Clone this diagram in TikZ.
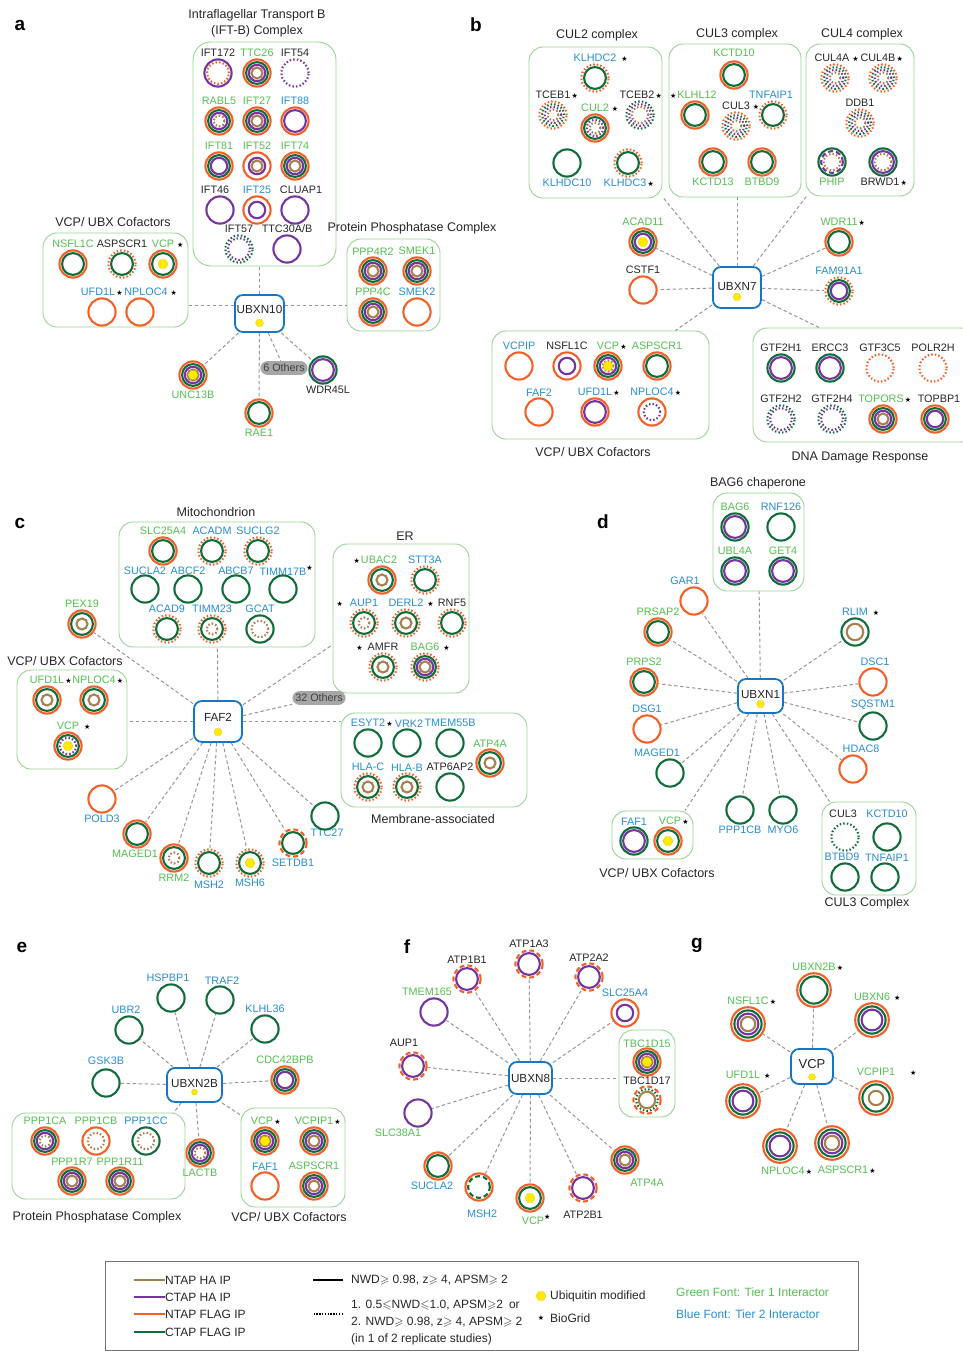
\documentclass[tikz,border=0pt]{standalone}
\usepackage{fontspec}
\usepackage{amssymb}
\setmainfont{Liberation Sans}
\newfontfamily\symf{DejaVu Sans}
\usetikzlibrary{shapes.geometric,positioning}

\definecolor{cO}{RGB}{242,96,40}
\definecolor{cG}{RGB}{16,108,56}
\definecolor{cP}{RGB}{118,52,160}
\definecolor{cB}{RGB}{168,128,80}
\definecolor{tGr}{RGB}{84,190,80}
\definecolor{tBl}{RGB}{40,140,210}
\definecolor{boxG}{RGB}{150,212,145}
\definecolor{hubB}{RGB}{22,118,198}
\definecolor{ubY}{RGB}{255,234,0}
\definecolor{lnkC}{RGB}{150,150,150}
\definecolor{txtK}{RGB}{38,38,38}

\newcommand{\labf}{\fontsize{10.8}{12}\selectfont}
\newcommand{\ttlf}{\fontsize{12.5}{16}\selectfont}
\newcommand{\bgs}{{\symf\fontsize{7}{7}\selectfont\textcolor{black}{★}}}
\newcommand{\starR}[1][1.2pt]{\rlap{\hspace{#1}\bgs}}
\newcommand{\starL}[1][1.2pt]{\llap{\bgs\hspace{#1}}}
\newcommand{\starU}{\rlap{\raisebox{5pt}{\bgs}}}
\newcommand{\rmax}{13.6}
\newcommand{\rstep}{2.7}

\tikzset{
  ring/.style={line width=2.1pt},
  dotline/.style={dash pattern=on 1.5pt off 2.1pt},
  dashline/.style={dash pattern=on 5pt off 3pt},
  ro/.style={ring,draw=cO}, rod/.style={ro,dotline}, rox/.style={ro,dashline},
  rg/.style={ring,draw=cG}, rgd/.style={rg,dotline}, rgx/.style={rg,dashline},
  rp/.style={ring,draw=cP}, rpd/.style={rp,dotline}, rpx/.style={rp,dashline},
  rb/.style={ring,draw=cB}, rbd/.style={rb,dotline}, rbx/.style={rb,dashline},
  rsk/.style={draw=none},
  prot/.style={circle,inner sep=0pt,minimum size={(2*\rmax+2)*1pt}},
  lab/.style={font=\labf,inner sep=1pt},
  tA/.style={text=tGr}, tB/.style={text=tBl}, tK/.style={text=txtK},
  ubdot/.style={regular polygon,regular polygon sides=6,minimum size=10pt,inner sep=0pt,fill=ubY,draw=ubY!85!black,line width=0.3pt},
  hubdot/.style={minimum size=8pt},
  hub/.style={draw=hubB,line width=1.8pt,rounded corners=8pt,fill=white,inner sep=0pt},
  hubt/.style={font=\fontsize{11.7}{12}\selectfont,text=txtK,inner sep=0pt},
  grp/.style={draw=boxG,line width=0.9pt,rounded corners=14pt,inner sep=0pt},
  ttl/.style={font=\ttlf,text=txtK,align=center,inner sep=1pt},
  pan/.style={font=\fontsize{19}{20}\selectfont\bfseries,text=black},
  oth/.style={fill=black!35,rounded corners=7.5pt,inner sep=3pt,font=\labf,text=black!75},
  lnk/.style={draw=lnkC,line width=1pt,dash pattern=on 3.5pt off 2.5pt},
  leg/.style={font=\fontsize{12}{17}\selectfont,text=txtK,inner sep=0pt,anchor=west,align=left},
}

\newcommand{\prot}[5]{%
  \node[prot,label={[lab,#4]#5}] (#1) at (#2) {};
  \foreach \rs [count=\rk] in {#3}{%
    \pgfmathsetmacro\rr{\rmax-\rstep*(\rk-1)}%
    \draw[\rs] (#1.center) circle[radius=\rr pt];}%
}
\newcommand{\ubq}[1]{\node[ubdot] (#1-u) at (#1.center) {};}

\begin{document}
\begin{tikzpicture}[x=1pt,y=-1pt]
\useasboundingbox (0,0) rectangle (963,1351);

\node[pan] (pa) at (20,25) {a};
\node[pan] (pb) at (476,25) {b};
\node[pan] (pc) at (20,523) {c};
\node[pan] (pd) at (603,522) {d};
\node[pan] (pe) at (22,947) {e};
\node[pan] (pf) at (407,947) {f};
\node[pan] (pg) at (697,945) {g};

\node[grp,minimum width=143pt,minimum height=224pt,rounded corners=18pt] (iftb) at (264.5,154) {};
\node[ttl] (iftbT) at (257,23) {Intraflagellar Transport B\\(IFT-B) Complex};
\prot{ift172a}{218,73}{rp,rod}{tK}{above:IFT172}
\prot{ttc26a}{257,73}{ro,rg,rp,rb}{tA}{above:TTC26}
\prot{ift54a}{295,73}{rpd}{tK}{above:IFT54}
\prot{rabl5a}{219,121}{ro,rg,rp,rbd}{tA}{above:RABL5}
\prot{ift27a}{257,121}{ro,rg,rp,rb}{tA}{above:IFT27}
\prot{ift88a}{295,121}{ro,rp}{tB}{above:IFT88}
\prot{ift81a}{219,166}{ro,rg,rp}{tA}{above:IFT81}
\prot{ift52a}{257,166}{ro,rsk,rp,rb}{tA}{above:IFT52}
\prot{ift74a}{295,166}{ro,rg,rp,rb}{tA}{above:IFT74}
\prot{ift46a}{220,210}{rp}{tK,xshift=-5pt}{above:IFT46}
\prot{ift25a}{257,210}{ro,rsk,rp}{tB}{above:IFT25}
\prot{cluap1a}{295,210}{rp}{tK,xshift=6pt}{above:CLUAP1}
\prot{ift57a}{239,249}{rgd,rpd}{tK}{above:IFT57}
\prot{ttc30a}{287,249}{rp}{tK}{above:TTC30A/B}

\node[grp,minimum width=145pt,minimum height=94pt] (vcpa) at (115.5,280) {};
\node[ttl] (vcpaT) at (113,222) {VCP/ UBX Cofactors};
\prot{nsfl1cA}{73,264}{ro,rg}{tA}{above:NSFL1C}
\prot{aspscr1A}{122,264}{rod,rg}{tK}{above:ASPSCR1}
\prot{vcpA}{163,264}{ro,rg}{tA}{above:VCP\starR[3pt]}
\ubq{vcpA}
\prot{ufd1lA}{102,312}{ro}{tB,xshift=-4pt}{above:UFD1L\starR}
\prot{nploc4A}{140,312}{ro}{tB,xshift=6pt}{above:NPLOC4\starR[3pt]}

\node[grp,minimum width=93pt,minimum height=92pt] (ppa) at (393.5,285) {};
\node[ttl] (ppaT) at (412,228) {Protein Phosphatase Complex};
\prot{ppp4r2A}{373,271}{ro,rg,rp,rb}{tA}{above:PPP4R2}
\prot{smek1A}{417,271}{ro,rg,rp,rb}{tA}{above:SMEK1}
\prot{ppp4cA}{373,312}{ro,rg,rp,rb}{tA}{above:PPP4C}
\prot{smek2A}{417,312}{ro}{tB}{above:SMEK2}

\prot{unc13bA}{193,375}{ro,rg,rp,rb}{tA}{below:UNC13B}
\ubq{unc13bA}
\prot{rae1A}{259,413}{ro,rg}{tA}{below:RAE1}
\prot{wdr45lA}{323,370}{rg,rp}{tK,xshift=5pt}{below:WDR45L}
\node[oth] (oth10) at (284,368) {6 Others};

\node[hub,minimum width=49pt,minimum height=37pt,label={[hubt,yshift=4pt]center:UBXN10}] (ubxn10) at (259.5,313.5) {};
\node[ubdot,hubdot] (ubxn10-u) at ([yshift=-9.5pt]ubxn10.center) {};
\draw[lnk] (ubxn10.north) -- (ubxn10.north |- iftb.south);
\draw[lnk] ([yshift=8.5pt]ubxn10.west) -- ([yshift=8.5pt]ubxn10.west -| vcpa.east);
\draw[lnk] ([yshift=8.5pt]ubxn10.east) -- ([yshift=8.5pt]ubxn10.east -| ppa.west);
\foreach \tg in {unc13bA,rae1A,oth10,wdr45lA} \draw[lnk] (ubxn10) -- (\tg);

\node[grp,minimum width=133pt,minimum height=151pt] (cul2) at (595.5,122.5) {};
\node[ttl] (cul2T) at (597,35) {CUL2 complex};
\prot{klhdc2B}{595,78}{rod,rg}{tB}{above:KLHDC2\starR[5pt]}
\prot{tceb1B}{553,115}{rod,rgd,rpd,rbd}{tK}{above:TCEB1\starR}
\prot{cul2B}{595,128}{ro,rg,rpd,rbd}{tA}{above:CUL2\starR[3pt]}
\prot{tceb2B}{640,115}{rgd,rpd,rbd}{tK,xshift=-3pt}{above:TCEB2\starR}
\prot{klhdc10B}{567,163}{rg}{tB}{below:KLHDC10}
\prot{klhdc3B}{628,163}{rod,rg}{tB,xshift=-3pt}{below:KLHDC3\starR}

\node[grp,minimum width=132pt,minimum height=153pt] (cul3) at (735,120.5) {};
\node[ttl] (cul3T) at (737,34) {CUL3 complex};
\prot{kctd10B}{734,75}{ro,rg}{tA,yshift=2pt}{above:KCTD10}
\prot{klhl12B}{695,115}{ro,rg}{tA,xshift=2pt}{above:\starL KLHL12}
\prot{tnfaip1B}{773,115}{rod,rg}{tB,xshift=-2pt}{above:TNFAIP1}
\prot{cul3B}{736,126}{rod,rgd,rpd,rbd}{tK}{above:CUL3\starR[3pt]}
\prot{kctd13B}{713,162}{ro,rg}{tA}{below:KCTD13}
\prot{btbd9B}{762,162}{ro,rg}{tA}{below:BTBD9}

\node[grp,minimum width=108pt,minimum height=152pt] (cul4) at (860,120) {};
\node[ttl] (cul4T) at (862,34) {CUL4 complex};
\prot{cul4aB}{835,78}{rod,rgd,rpd,rbd}{tK,xshift=-3pt}{above:CUL4A\starR[3pt]}
\prot{cul4bB}{883,78}{rod,rgd,rpd,rbd}{tK,xshift=-5pt}{above:CUL4B\starR}
\prot{ddb1B}{860,123}{rod,rgd,rpd,rbd}{tK}{above:DDB1}
\prot{phipB}{832,162}{rg,rpx,rbd}{tA}{below:PHIP}
\prot{brwd1B}{883,162}{rg,rp,rbd}{tK,xshift=-3pt}{below:BRWD1\starR}

\prot{acad11B}{643,242}{ro,rg,rp}{tA}{above:ACAD11}
\ubq{acad11B}
\prot{cstf1B}{643,290}{ro}{tK}{above:CSTF1}
\prot{wdr11B}{839,242}{ro,rg}{tA}{above:WDR11\starR}
\prot{fam91a1B}{839,291}{rod,rg,rp}{tB}{above:FAM91A1}

\node[grp,minimum width=217pt,minimum height=108pt] (vcpb) at (600.5,385) {};
\node[ttl] (vcpbT) at (593,452) {VCP/ UBX Cofactors};
\prot{vcpipB}{519,366}{ro}{tB}{above:VCPIP}
\prot{nsfl1cB}{567,366}{ro,rsk,rp}{tK}{above:NSFL1C}
\prot{vcpB}{608,366}{ro,rg,rp,rbd}{tA}{above:VCP\starR}
\ubq{vcpB}
\prot{aspscr1B}{657,366}{ro,rg}{tA}{above:ASPSCR1}
\prot{faf2B}{539,412}{ro}{tB}{above:FAF2}
\prot{ufd1lB}{595,412}{ro,rp}{tB}{above:UFD1L\starR}
\prot{nploc4B}{652,412}{ro,rsk,rpd}{tB}{above:NPLOC4\starR}

\node[grp,minimum width=222pt,minimum height=114pt] (dna) at (864,385) {};
\node[ttl] (dnaT) at (860,457) {DNA Damage Response};
\prot{gtf2h1B}{781,368}{rg,rp}{tK}{above:GTF2H1}
\prot{ercc3B}{830,368}{rg,rp}{tK}{above:ERCC3}
\prot{gtf3c5B}{880,368}{rod}{tK}{above:GTF3C5}
\prot{polr2hB}{933,368}{rod}{tK}{above:POLR2H}
\prot{gtf2h2B}{781,419}{rgd,rpd}{tK}{above:GTF2H2}
\prot{gtf2h4B}{832,419}{rgd,rpd}{tK}{above:GTF2H4}
\prot{toporsB}{883,419}{ro,rg,rp,rb}{tA,xshift=-2pt}{above:TOPORS\starR}
\prot{topbp1B}{935,419}{ro,rg,rp}{tK,xshift=4pt}{above:TOPBP1}

\node[hub,minimum width=48pt,minimum height=41pt,label={[hubt,yshift=1pt]center:UBXN7}] (ubxn7) at (737,287.5) {};
\node[ubdot,hubdot] (ubxn7-u) at ([yshift=-9.5pt]ubxn7.center) {};
\draw[lnk] (ubxn7) -- (cul2.-48);
\draw[lnk] (ubxn7.north) -- (ubxn7.north |- cul3.south);
\draw[lnk] (ubxn7) -- (cul4.-125);
\draw[lnk] (ubxn7) -- (vcpb.36);
\draw[lnk] (ubxn7) -- (dna.128);
\foreach \tg in {acad11B,cstf1B,wdr11B,fam91a1B} \draw[lnk] (ubxn7) -- (\tg);

\node[grp,minimum width=196pt,minimum height=125pt] (mito) at (217,584.5) {};
\node[ttl] (mitoT) at (216,512) {Mitochondrion};
\prot{slc25a4C}{163,551}{ro,rg}{tA}{above:SLC25A4}
\prot{acadmC}{212,551}{rod,rg}{tB}{above:ACADM}
\prot{suclg2C}{258,551}{rod,rg}{tB}{above:SUCLG2}
\prot{sucla2C}{145,589}{rg}{tB,yshift=-2pt}{above:SUCLA2}
\prot{abcf2C}{188,589}{rg}{tB,yshift=-2pt}{above:ABCF2}
\prot{abcb7C}{236,589}{rg}{tB,yshift=-2pt}{above:ABCB7}
\prot{timm17bC}{283,589}{rg}{tB,yshift=-2pt}{above:TIMM17B\starU}
\prot{acad9C}{167,629}{rod,rg}{tB}{above:ACAD9}
\prot{timm23C}{212,629}{rod,rg,rsk,rbd}{tB}{above:TIMM23}
\prot{gcatC}{260,629}{rg,rsk,rbd}{tB}{above:GCAT}

\prot{pex19C}{82,624}{ro,rg,rsk,rb}{tA}{above:PEX19}

\node[grp,minimum width=110pt,minimum height=99pt] (vcpc) at (72,719.5) {};
\node[ttl] (vcpcT) at (65,661) {VCP/ UBX Cofactors};
\prot{ufd1lC}{47,700}{ro,rg,rsk,rb}{tA}{above:UFD1L\starR}
\prot{nploc4C}{94,700}{ro,rg,rsk,rb}{tA}{above:NPLOC4\starR}
\prot{vcpC}{68,746}{ro,rg,rpd}{tA}{above:VCP\starR[5pt]}
\ubq{vcpC}

\node[grp,minimum width=136pt,minimum height=149pt] (er) at (401,618.5) {};
\node[ttl] (erT) at (405,536) {ER};
\prot{ubac2C}{382,580}{ro,rg,rsk,rb}{tA,xshift=-3pt}{above:\starL UBAC2}
\prot{stt3aC}{425,580}{rod,rg}{tB}{above:STT3A}
\prot{aup1C}{364,623}{rod,rg,rsk,rbd}{tB}{above:\starL[7pt]AUP1}
\prot{derl2C}{406,623}{rod,rg,rsk,rb}{tB}{above:DERL2\starR[4pt]}
\prot{rnf5C}{452,623}{rod,rg}{tK}{above:RNF5}
\prot{amfrC}{383,667}{rod,rg,rsk,rb}{tK}{above:\starL[5pt]AMFR}
\prot{bag6C}{425,667}{rod,rg,rp,rb}{tA}{above:BAG6\starR[4pt]}

\node[grp,minimum width=186pt,minimum height=94pt] (memb) at (434,760) {};
\node[ttl] (membT) at (433,819) {Membrane-associated};
\prot{esyt2C}{368,743}{rg}{tB}{above:ESYT2\starR}
\prot{vrk2C}{407,743}{rg}{tB,xshift=2pt}{above:VRK2}
\prot{tmem55bC}{450,743}{rg}{tB}{above:TMEM55B}
\prot{atp4aC}{490,763}{ro,rg,rsk,rb}{tA}{above:ATP4A}
\prot{hlacC}{368,787}{rod,rg,rsk,rb}{tB}{above:HLA-C}
\prot{hlabC}{407,787}{rod,rg,rsk,rb}{tB}{above:HLA-B}
\prot{atp6ap2C}{450,787}{rg}{tK}{above:ATP6AP2}

\prot{pold3C}{102,799}{ro}{tB}{below:POLD3}
\prot{maged1C}{137,834}{ro,rg}{tA,xshift=-2pt}{below:MAGED1}
\prot{rrm2C}{174,858}{ro,rg,rsk,rbd}{tA}{below:RRM2}
\prot{msh2C}{209,863}{rod,rg}{tB,yshift=-2pt}{below:MSH2}
\prot{msh6C}{250,863}{rod,rg}{tB}{below:MSH6}
\ubq{msh6C}
\prot{setdb1C}{293,843}{rox,rg}{tB}{below:SETDB1}
\prot{ttc27C}{325,816}{rg}{tB,xshift=2pt,yshift=3pt}{below:TTC27}
\node[oth] (oth32) at (319,698) {32 Others};

\node[hub,minimum width=48pt,minimum height=41pt,label={[hubt,yshift=4.5pt]center:FAF2}] (faf2) at (218,721.5) {};
\node[ubdot,hubdot] (faf2-u) at ([yshift=-10.5pt]faf2.center) {};
\draw[lnk] (faf2) -- (mito);
\draw[lnk] (faf2) -- (er.201);
\draw[lnk] (faf2.east) -- (faf2.east -| memb.west);
\draw[lnk] (faf2.west) -- (faf2.west -| vcpc.east);
\foreach \tg in {oth32,pex19C,pold3C,maged1C,rrm2C,msh2C,msh6C,setdb1C,ttc27C} \draw[lnk] (faf2) -- (\tg);

\node[grp,minimum width=91pt,minimum height=98pt] (bag6box) at (758.5,542) {};
\node[ttl] (bag6T) at (758,483) {BAG6 chaperone};
\prot{bag6D}{735,527}{rg,rp}{tA}{above:BAG6}
\prot{rnf126D}{781,527}{rg}{tB}{above:RNF126}
\prot{ubl4aD}{735,571}{rg,rp}{tA}{above:UBL4A}
\prot{get4D}{783,571}{rg,rp}{tA}{above:GET4}

\prot{gar1D}{694,601}{ro}{tB,xshift=-9pt}{above:GAR1}
\prot{prsap2D}{658,632}{ro,rg}{tA}{above:PRSAP2}
\prot{prps2D}{644,682}{ro,rg}{tA}{above:PRPS2}
\prot{dsg1D}{647,729}{ro}{tB}{above:DSG1}
\prot{maged1D}{670,773}{rg}{tB,xshift=-13pt}{above:MAGED1}
\prot{rlimD}{855,632}{rg,rsk,rb}{tB}{above:RLIM\starR[5pt]}
\prot{dsc1D}{873,682}{ro}{tB,xshift=2pt}{above:DSC1}
\prot{sqstm1D}{873,726}{rg}{tB}{above:SQSTM1}
\prot{hdac8D}{853,769}{ro}{tB,xshift=8pt}{above:HDAC8}
\prot{ppp1cbD}{740,810}{rg}{tB}{below:PPP1CB}
\prot{myo6D}{783,810}{rg}{tB}{below:MYO6}

\node[grp,minimum width=81pt,minimum height=48pt] (vcpd) at (652.5,835) {};
\node[ttl] (vcpdT) at (657,873) {VCP/ UBX Cofactors};
\prot{faf1D}{634,841}{rg,rp}{tB}{above:FAF1}
\prot{vcpD}{668,841}{ro,rg}{tA,xshift=2pt}{above:VCP\starR}
\ubq{vcpD}

\node[grp,minimum width=94pt,minimum height=93pt] (cul3d) at (869,848.5) {};
\node[ttl] (cul3dT) at (867,903) {CUL3 Complex};
\prot{cul3D}{845,837}{rgd}{tK,xshift=-2pt,yshift=3pt}{above:CUL3}
\prot{kctd10D}{887,837}{rg}{tB,yshift=3pt}{above:KCTD10}
\prot{btbd9D}{845,877}{rg}{tB,xshift=-3pt}{above:BTBD9}
\prot{tnfaip1D}{885,877}{rg}{tB,xshift=2pt}{above:TNFAIP1}

\node[hub,minimum width=45pt,minimum height=34pt,label={[hubt,yshift=1pt]center:UBXN1}] (ubxn1) at (760.5,696) {};
\node[ubdot,hubdot] (ubxn1-u) at ([yshift=-8pt]ubxn1.center) {};
\draw[lnk] (ubxn1) -- (bag6box);
\draw[lnk] (ubxn1) -- (vcpd.37);
\draw[lnk] (ubxn1) -- (cul3d.130);
\foreach \tg in {gar1D,prsap2D,prps2D,dsg1D,maged1D,rlimD,dsc1D,sqstm1D,hdac8D,ppp1cbD,myo6D} \draw[lnk] (ubxn1) -- (\tg);

\prot{hspbp1E}{171,998}{rg}{tB,xshift=-3pt}{above:HSPBP1}
\prot{traf2E}{220,1000}{rg}{tB,xshift=2pt}{above:TRAF2}
\prot{ubr2E}{129,1030}{rg}{tB,xshift=-3pt}{above:UBR2}
\prot{klhl36E}{265,1029}{rg}{tB}{above:KLHL36}
\prot{gsk3bE}{106,1083}{rg}{tB,yshift=2pt}{above:GSK3B}
\prot{cdc42bpbE}{285,1080}{ro,rg,rp}{tA}{above:CDC42BPB}
\prot{lactbE}{200,1153}{ro,rg,rp,rbd}{tA}{below:LACTB}

\node[grp,minimum width=173pt,minimum height=86pt] (ppe) at (98.5,1156) {};
\node[ttl] (ppeT) at (97,1217) {Protein Phosphatase Complex};
\prot{ppp1caE}{45,1141}{ro,rg,rp,rbd}{tA}{above:PPP1CA}
\prot{ppp1cbE}{96,1141}{ro,rsk,rbd}{tA}{above:PPP1CB}
\prot{ppp1ccE}{146,1141}{rg,rsk,rbd}{tB}{above:PPP1CC}
\prot{ppp1r7E}{72,1181}{ro,rg,rp,rb}{tA}{above:PPP1R7}
\prot{ppp1r11E}{120,1181}{ro,rg,rp,rb}{tA}{above:PPP1R11}

\node[grp,minimum width=104pt,minimum height=99pt] (vcpe) at (293,1157.5) {};
\node[ttl] (vcpeT) at (289,1217) {VCP/ UBX Cofactors};
\prot{vcpE}{265,1141}{ro,rg,rp,rb}{tA,xshift=-3pt}{above:VCP\starR}
\ubq{vcpE}
\prot{vcpip1E}{314,1141}{ro,rg,rp,rb}{tA}{above:VCPIP1\starR}
\prot{faf1E}{265,1186}{ro}{tB}{above:FAF1}
\prot{aspscr1E}{314,1186}{ro,rg,rp,rb}{tA}{above:ASPSCR1}

\node[hub,minimum width=55pt,minimum height=34pt,label={[hubt,yshift=2pt]center:UBXN2B}] (ubxn2b) at (194.5,1085) {};
\node[ubdot,hubdot,minimum size=6pt] (ubxn2b-u) at ([yshift=-7pt]ubxn2b.center) {};
\draw[lnk] (ubxn2b) -- (ppe.30);
\draw[lnk] (ubxn2b) -- (vcpe.141);
\foreach \tg in {hspbp1E,traf2E,ubr2E,klhl36E,gsk3bE,cdc42bpbE,lactbE} \draw[lnk] (ubxn2b) -- (\tg);

\prot{atp1b1F}{467,979}{rox,rp}{tK}{above:ATP1B1}
\prot{atp1a3F}{529,964}{rox,rp}{tK}{above:ATP1A3}
\prot{atp2a2F}{589,977}{rox,rp}{tK}{above:ATP2A2}
\prot{tmem165F}{434,1012}{rp}{tA,xshift=-7pt}{above:TMEM165}
\prot{slc25a4F}{625,1013}{ro,rsk,rp}{tB}{above:SLC25A4}
\prot{aup1F}{413,1066}{rox,rp}{tK,xshift=-9pt,yshift=3pt}{above:AUP1}
\prot{slc38a1F}{418,1113}{rp}{tA,xshift=-20pt}{below:SLC38A1}
\prot{sucla2F}{438,1166}{ro,rg}{tB,xshift=-6pt}{below:SUCLA2}
\prot{msh2F}{479,1187}{ro,rgx}{tB,xshift=3pt,yshift=-7pt}{below:MSH2}
\prot{vcpF}{530,1198}{ro,rg}{tA,xshift=3pt}{below:VCP\starU}
\ubq{vcpF}
\prot{atp2b1F}{583,1188}{rox,rp}{tK,yshift=-7pt}{below:ATP2B1}
\prot{atp4aF}{625,1160}{ro,rg,rp,rb}{tA,xshift=22pt,yshift=-3pt}{below:ATP4A}

\node[grp,minimum width=56pt,minimum height=87pt] (tbc) at (647,1073.5) {};
\prot{tbc1d15F}{647,1062}{ro,rg,rp,rb}{tA,yshift=-2pt}{above:TBC1D15}
\ubq{tbc1d15F}
\prot{tbc1d17F}{647,1100}{rox,rgd,rb}{tK,yshift=-1pt}{above:TBC1D17}

\node[hub,minimum width=43pt,minimum height=32pt,label={[hubt]center:UBXN8}] (ubxn8) at (530.5,1078) {};
\draw[lnk] (ubxn8) -- (ubxn8 -| tbc.west);
\foreach \tg in {atp1b1F,atp1a3F,atp2a2F,tmem165F,slc25a4F,aup1F,slc38a1F,sucla2F,msh2F,vcpF,atp2b1F,atp4aF} \draw[lnk] (ubxn8) -- (\tg);

\renewcommand{\rmax}{16.8}
\renewcommand{\rstep}{3.2}
\prot{ubxn2bG}{814,990}{ro,rg}{tA}{above:UBXN2B\starR}
\prot{nsfl1cG}{748,1024}{ro,rg,rp,rb}{tA}{above:NSFL1C\starR}
\prot{ubxn6G}{872,1020}{ro,rg,rp}{tA}{above:UBXN6\starR[4pt]}
\prot{ufd1lG}{743,1101}{ro,rg,rp}{tA,yshift=3pt}{above:UFD1L\starR[4pt]}
\prot{vcpip1G}{876,1098}{ro,rg,rsk,rb}{tA,yshift=3pt}{above:VCPIP1\starR[15pt]}
\prot{nploc4G}{780,1146}{ro,rg,rp}{tA,xshift=3pt,yshift=-2pt}{below:NPLOC4\starR}
\prot{aspscr1G}{832,1143}{ro,rg,rp,rb}{tA,xshift=11pt,yshift=-4pt}{below:ASPSCR1\starR}

\node[hub,minimum width=42pt,minimum height=35pt,label={[hubt,font=\fontsize{13}{14}\selectfont,yshift=2pt]center:VCP}] (vcpg) at (812,1066.5) {};
\node[ubdot,hubdot,minimum size=7pt] (vcpg-u) at ([yshift=-10.5pt]vcpg.center) {};
\foreach \tg in {ubxn2bG,nsfl1cG,ubxn6G,ufd1lG,vcpip1G,nploc4G,aspscr1G} \draw[lnk] (vcpg) -- (\tg);

\node[draw=black!55,line width=0.8pt,minimum width=753pt,minimum height=89pt,inner sep=0pt] (legend) at (481.5,1305.5) {};
\node[leg] (lgNH) at (165,1280) {NTAP HA IP};
\node[leg] (lgCH) at (165,1297) {CTAP HA IP};
\node[leg] (lgNF) at (165,1314) {NTAP FLAG IP};
\node[leg] (lgCF) at (165,1332) {CTAP FLAG IP};
\draw[cB,line width=1.6pt] (lgNH.west) -- ++(-31,0);
\draw[cP,line width=1.6pt] (lgCH.west) -- ++(-31,0);
\draw[cO,line width=1.6pt] (lgNF.west) -- ++(-31,0);
\draw[cG,line width=1.6pt] (lgCF.west) -- ++(-31,0);
\node[leg] (lgS) at (351,1280) {NWD$\geqslant$ 0.98, z$\geqslant$ 4, APSM$\geqslant$ 2};
\node[leg] (lgD) at (351,1323) {1. 0.5$\leqslant$NWD$\leqslant$1.0, APSM$\geqslant$2\enspace or\\2. NWD$\geqslant$ 0.98, z$\geqslant$ 4, APSM$\geqslant$ 2\\(in 1 of 2 replicate studies)};
\draw[black,line width=1.6pt] ([xshift=-8pt]lgS.west) -- ++(-30,0);
\draw[black,line width=1.6pt,dash pattern=on 1.4pt off 1.4pt] ([xshift=-8pt,yshift=9pt]lgD.west) -- ++(-30,0);
\node[ubdot] (lgU) at (541,1296) {};
\node[leg] (lgUt) at (550,1296) {Ubiquitin modified};
\node[inner sep=0pt] (lgB) at (541,1318) {\bgs};
\node[leg] (lgBt) at (550,1318) {BioGrid};
\node[leg,text=tGr] (lgT1) at (676,1292) {Green Font: Tier 1 Interactor};
\node[leg,text=tBl] (lgT2) at (676,1314) {Blue Font: Tier 2 Interactor};
\end{tikzpicture}
\end{document}
